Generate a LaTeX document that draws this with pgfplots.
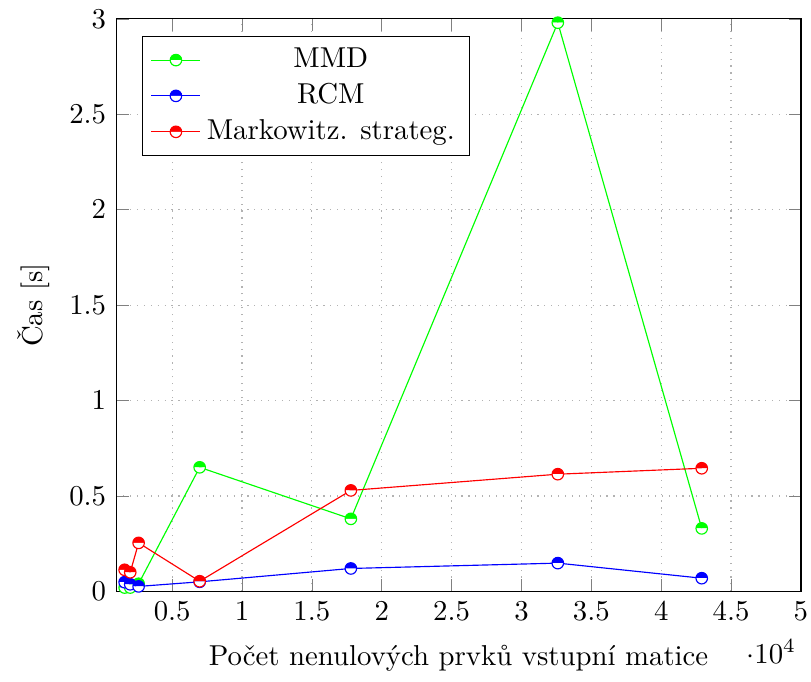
\documentclass[border=0pt]{standalone}
\usepackage{fontspec}
\usepackage{pgfplots}
\pgfplotsset{compat=1.18}
\begin{document}
\begin{tikzpicture}
\begin{axis}[
  scale only axis,
  width=238pt, height=199pt,
  xmin=1000, xmax=50000,
  ymin=0, ymax=3,
  xtick={5000,10000,15000,20000,25000,30000,35000,40000,45000,50000},
  ytick={0,0.5,1,1.5,2,2.5,3},
  xticklabel style={inner xsep=1pt},
  grid=major,
  grid style={dotted, gray!60},
  xlabel={Počet nenulových prvků vstupní matice},
  xlabel style={yshift=-2pt},
  ylabel={Čas [s]},
  ylabel style={text height=11.4pt},
  every x tick scale label/.style={at={(rel axis cs:1,0)}, anchor=base east, yshift=-25pt, xshift=-1.5pt, inner sep=0pt},
  legend style={at={(0.037,0.97)}, anchor=north west, font=\normalsize},
  legend cell align=center,
]
\addplot[color=green, mark=halfcircle*] coordinates {
 (1600,0.02) (2000,0.02) (2600,0.04) (6970,0.65) (17790,0.38) (32600,2.98) (42900,0.33)};
\addlegendentry{MMD}
\addplot[color=blue, mark=halfcircle*] coordinates {
 (1600,0.048) (2000,0.037) (2600,0.026) (6970,0.05) (17790,0.12) (32600,0.148) (42900,0.069)};
\addlegendentry{RCM}
\addplot[color=red, mark=halfcircle*] coordinates {
 (1600,0.113) (2000,0.10) (2600,0.254) (6970,0.053) (17790,0.529) (32600,0.614) (42900,0.645)};
\addlegendentry{Markowitz. strateg.}
\end{axis}
\end{tikzpicture}
\end{document}
